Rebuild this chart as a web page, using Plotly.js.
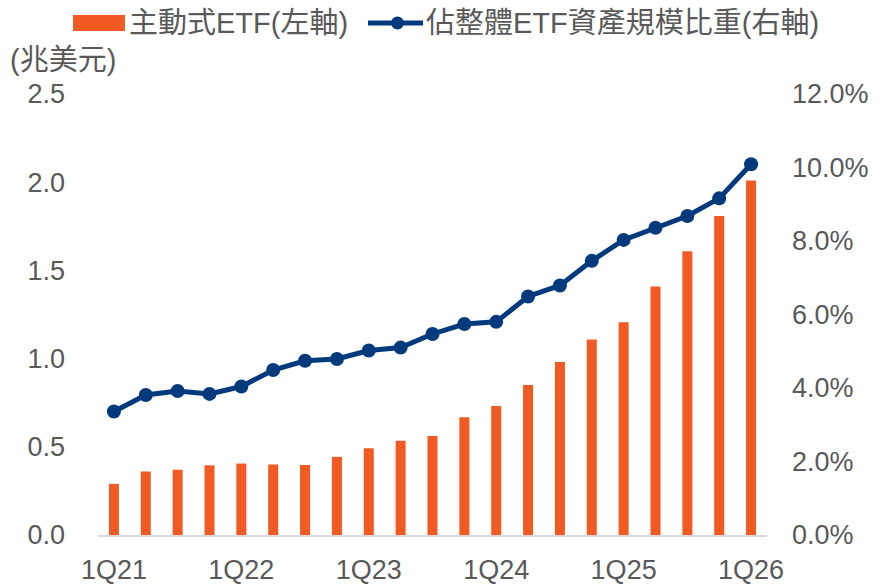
<!DOCTYPE html>
<html>
<head>
<meta charset="utf-8">
<script src="https://cdn.plot.ly/plotly-3.0.1.min.js"></script>
<style>html,body{margin:0;padding:0;background:#fff;}#chart{width:891px;height:584px;}</style>
</head>
<body>
<div id="chart"></div>
<script>
// ---- data ----
const quarters = ["1Q21","2Q21","3Q21","4Q21","1Q22","2Q22","3Q22","4Q22","1Q23","2Q23","3Q23","4Q23","1Q24","2Q24","3Q24","4Q24","1Q25","2Q25","3Q25","4Q25","1Q26"];
const activeEtf = [0.29,0.36,0.37,0.395,0.405,0.40,0.397,0.443,0.492,0.534,0.561,0.668,0.731,0.850,0.981,1.108,1.206,1.409,1.608,1.809,2.010];
const shareOfEtf = [3.36,3.81,3.92,3.84,4.04,4.49,4.74,4.79,5.02,5.10,5.47,5.74,5.80,6.49,6.79,7.46,8.03,8.36,8.68,9.16,10.09];
const xTickLabels = ["1Q21","1Q22","1Q23","1Q24","1Q25","1Q26"];
const seriesNames = ["主動式ETF(左軸)","佔整體ETF資產規模比重(右軸)"];
const leftUnit = "(兆美元)";

// ---- style ----
const W = 891, H = 584;
const M = {l:98, r:124, t:94, b:49, autoexpand:false};
const PW = W - M.l - M.r, PH = H - M.t - M.b;
const px = x => (x - M.l) / PW;
const py = y => (H - M.b - y) / PH;
const ORANGE = "#F15A22", NAVY = "#003A7D", TXT = "#595959";
const FONT = "Liberation Sans, Arial, Noto Sans CJK TC, sans-serif";

const traces = [
  {type:"bar", x:quarters, y:activeEtf, name:seriesNames[0], marker:{color:ORANGE}, yaxis:"y", hoverinfo:"skip"},
  {type:"scatter", mode:"lines+markers", x:quarters, y:shareOfEtf, name:seriesNames[1], yaxis:"y2",
   line:{color:NAVY, width:5}, marker:{color:NAVY, size:14}, hoverinfo:"skip", cliponaxis:false}
];

const layout = {
  width:W, height:H, margin:M, showlegend:false,
  paper_bgcolor:"#fff", plot_bgcolor:"#fff",
  font:{family:FONT, color:TXT, size:27},
  bargap:0.686,
  xaxis:{type:"category", categoryorder:"array", categoryarray:quarters,
    range:[-0.5, quarters.length - 0.5], autorange:false,
    tickvals:xTickLabels, ticktext:xTickLabels, showgrid:false, zeroline:false,
    showline:true, linecolor:"#D9D9D9", linewidth:2, ticks:"", ticklabelstandoff:10,
    tickfont:{size:27, color:TXT}},
  yaxis:{range:[0,2.5], dtick:0.5, tickformat:".1f", showgrid:false, zeroline:false,
    showline:false, ticks:"", ticklabelstandoff:32, tickfont:{size:27, color:TXT}},
  yaxis2:{range:[0,12], dtick:2, tickformat:".1f", ticksuffix:"%", overlaying:"y", side:"right",
    showgrid:false, zeroline:false, showline:false, ticks:"", ticklabelstandoff:24,
    tickfont:{size:27, color:TXT}},
  shapes:[
    {type:"rect", xref:"paper", yref:"paper", x0:px(73), x1:px(125), y0:py(31), y1:py(15),
     fillcolor:ORANGE, line:{width:0}},
    {type:"line", xref:"paper", yref:"paper", x0:px(368), x1:px(423), y0:py(23), y1:py(23),
     line:{color:NAVY, width:5}},
    {type:"circle", xref:"paper", yref:"paper", x0:px(391), x1:px(404), y0:py(29.5), y1:py(16.5),
     fillcolor:NAVY, line:{width:0}}
  ],
  annotations:[
    {xref:"paper", yref:"paper", x:px(127), y:py(23), xanchor:"left", yanchor:"middle",
     text:seriesNames[0], showarrow:false, font:{size:29, color:TXT, family:FONT}},
    {xref:"paper", yref:"paper", x:px(424), y:py(23), xanchor:"left", yanchor:"middle",
     text:seriesNames[1], showarrow:false, font:{size:29, color:TXT, family:FONT}},
    {xref:"paper", yref:"paper", x:px(8), y:py(60), xanchor:"left", yanchor:"middle",
     text:leftUnit, showarrow:false, font:{size:29, color:TXT, family:FONT}}
  ]
};

Plotly.newPlot("chart", traces, layout, {staticPlot:true, displayModeBar:false});
</script>
</body>
</html>
